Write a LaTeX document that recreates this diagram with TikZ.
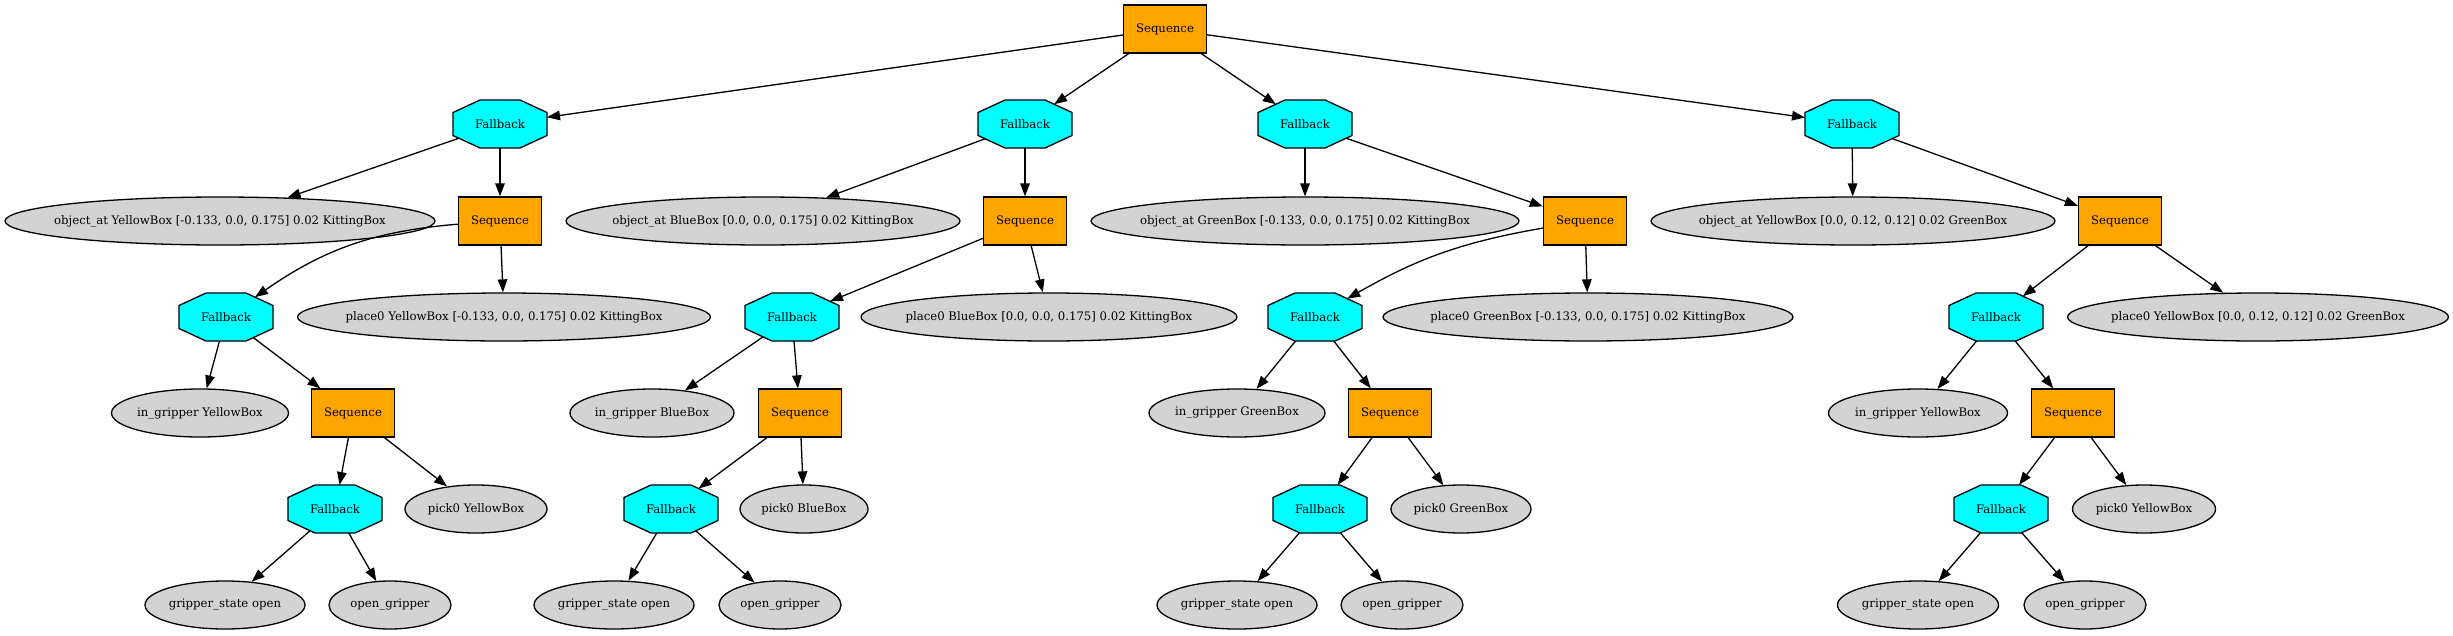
\documentclass[tikz,border=0pt]{standalone}
\usepackage{fontspec}
\setmainfont{DejaVu Serif}
\usetikzlibrary{shapes.geometric,arrows.meta}
\definecolor{lgray}{HTML}{D3D3D3}
\definecolor{seqorange}{HTML}{FFA500}
\definecolor{fbcyan}{HTML}{00FFFF}
\newcommand{\zb}[1]{\makebox[0pt]{#1}}
\newdimen\octxa \newdimen\octya \newdimen\octxb \newdimen\octyb
\def\octchx{27}
\def\octchy{12.5}
\makeatletter
\pgfdeclareshape{octo}{%
  \inheritsavedanchors[from=rectangle]%
  \inheritanchor[from=rectangle]{center}%
  \inheritanchor[from=rectangle]{north}%
  \inheritanchor[from=rectangle]{south}%
  \inheritanchor[from=rectangle]{east}%
  \inheritanchor[from=rectangle]{west}%
  \backgroundpath{%
    \southwest \octxa=\pgf@x \octya=\pgf@y
    \northeast \octxb=\pgf@x \octyb=\pgf@y
    \pgfpathmoveto{\pgfqpoint{\octxa}{\dimexpr\octya+\octchy pt\relax}}%
    \pgfpathlineto{\pgfqpoint{\dimexpr\octxa+\octchx pt\relax}{\octya}}%
    \pgfpathlineto{\pgfqpoint{\dimexpr\octxb-\octchx pt\relax}{\octya}}%
    \pgfpathlineto{\pgfqpoint{\octxb}{\dimexpr\octya+\octchy pt\relax}}%
    \pgfpathlineto{\pgfqpoint{\octxb}{\dimexpr\octyb-\octchy pt\relax}}%
    \pgfpathlineto{\pgfqpoint{\dimexpr\octxb-\octchx pt\relax}{\octyb}}%
    \pgfpathlineto{\pgfqpoint{\dimexpr\octxa+\octchx pt\relax}{\octyb}}%
    \pgfpathlineto{\pgfqpoint{\octxa}{\dimexpr\octyb-\octchy pt\relax}}%
    \pgfpathclose
  }%
  \anchorborder{%
    \edef\octdx{\pgf@sys@tonumber\pgf@x}%
    \edef\octdy{\pgf@sys@tonumber\pgf@y}%
    \southwest \octxa=\pgf@x \octya=\pgf@y
    \northeast \octxb=\pgf@x \octyb=\pgf@y
    \pgfmathsetmacro\octlen{max(veclen(\octdx,\octdy),0.001)}%
    \pgfmathsetmacro\octux{\octdx/\octlen}%
    \pgfmathsetmacro\octuy{\octdy/\octlen}%
    \pgfmathsetmacro\octX{max(abs(\octux),0.01)}%
    \pgfmathsetmacro\octY{max(abs(\octuy),0.01)}%
    \pgfmathsetmacro\octa{(\octxb-\octxa)/2}%
    \pgfmathsetmacro\octb{(\octyb-\octya)/2}%
    \pgfmathsetmacro\octt{min(\octa/\octX,\octb/\octY,(\octchy*\octa+\octchx*\octb-\octchx*\octchy)/(\octchy*\octX+\octchx*\octY))}%
    \pgfmathsetmacro\octpx{(\octxa+\octxb)/2+\octt*\octux}%
    \pgfmathsetmacro\octpy{(\octya+\octyb)/2+\octt*\octuy}%
    \pgf@x=\octpx pt\relax
    \pgf@y=\octpy pt\relax
  }%
}
\makeatother
\begin{document}
\begin{tikzpicture}[x=1pt,y=-1pt,
  every node/.style={font=\fontsize{11.7}{14}\selectfont, line width=1.3pt},
  seqbox/.style={rectangle, draw, fill=seqorange, minimum width=83pt, minimum height=48pt, inner sep=0pt},
  fbbox/.style={octo, draw, fill=fbcyan, minimum width=94pt, minimum height=48pt, inner sep=0pt, outer sep=0pt},
  leaf/.style={ellipse, draw, fill=lgray, minimum height=48pt, inner sep=0pt},
  edge/.style={line width=1.3pt, -{Triangle[length=13pt,width=9.5pt]}}]
\useasboundingbox (0,0) rectangle (2453,635);
% root
\node[seqbox] (root) at (1165,29) {\zb{Sequence}};
% subtree A
\node[fbbox] (fA) at (500,124) {\zb{Fallback}};
\node[leaf, minimum width=430pt] (oA) at (220,221) {\zb{object\_at YellowBox [-0.133, 0.0, 0.175] 0.02 KittingBox}};
\node[seqbox] (sA) at (500,221) {\zb{Sequence}};
\node[fbbox] (fA2) at (226,317) {\zb{Fallback}};
\node[leaf, minimum width=413pt] (pA) at (504,317) {\zb{place0 YellowBox [-0.133, 0.0, 0.175] 0.02 KittingBox}};
\node[leaf, minimum width=177pt] (iA) at (200,413) {\zb{in\_gripper YellowBox}};
\node[seqbox] (sA2) at (353,413) {\zb{Sequence}};
\node[fbbox] (fA3) at (335,509) {\zb{Fallback}};
\node[leaf, minimum width=142pt] (kA) at (476,509) {\zb{pick0 YellowBox}};
\node[leaf, minimum width=160pt] (gA) at (225,605) {\zb{gripper\_state open}};
\node[leaf, minimum width=122pt] (opA) at (390,605) {\zb{open\_gripper}};
% subtree B
\node[fbbox] (fB) at (1025,124) {\zb{Fallback}};
\node[leaf, minimum width=394pt] (oB) at (763,221) {\zb{object\_at BlueBox [0.0, 0.0, 0.175] 0.02 KittingBox}};
\node[seqbox] (sB) at (1025,221) {\zb{Sequence}};
\node[fbbox] (fB2) at (792,317) {\zb{Fallback}};
\node[leaf, minimum width=376pt] (pB) at (1049,317) {\zb{place0 BlueBox [0.0, 0.0, 0.175] 0.02 KittingBox}};
\node[leaf, minimum width=164pt] (iB) at (652,413) {\zb{in\_gripper BlueBox}};
\node[seqbox] (sB2) at (800,413) {\zb{Sequence}};
\node[fbbox] (fB3) at (671,509) {\zb{Fallback}};
\node[leaf, minimum width=128pt] (kB) at (804,509) {\zb{pick0 BlueBox}};
\node[leaf, minimum width=160pt] (gB) at (614,605) {\zb{gripper\_state open}};
\node[leaf, minimum width=122pt] (opB) at (780,605) {\zb{open\_gripper}};
% subtree C
\node[fbbox] (fC) at (1305,124) {\zb{Fallback}};
\node[leaf, minimum width=428pt] (oC) at (1305,221) {\zb{object\_at GreenBox [-0.133, 0.0, 0.175] 0.02 KittingBox}};
\node[seqbox] (sC) at (1585,221) {\zb{Sequence}};
\node[fbbox] (fC2) at (1315,317) {\zb{Fallback}};
\node[leaf, minimum width=410pt] (pC) at (1588,317) {\zb{place0 GreenBox [-0.133, 0.0, 0.175] 0.02 KittingBox}};
\node[leaf, minimum width=176pt] (iC) at (1237,413) {\zb{in\_gripper GreenBox}};
\node[seqbox] (sC2) at (1390,413) {\zb{Sequence}};
\node[fbbox] (fC3) at (1320,509) {\zb{Fallback}};
\node[leaf, minimum width=140pt] (kC) at (1461,509) {\zb{pick0 GreenBox}};
\node[leaf, minimum width=160pt] (gC) at (1237,605) {\zb{gripper\_state open}};
\node[leaf, minimum width=122pt] (opC) at (1402,605) {\zb{open\_gripper}};
% subtree D
\node[fbbox] (fD) at (1852,124) {\zb{Fallback}};
\node[leaf, minimum width=404pt] (oD) at (1853,221) {\zb{object\_at YellowBox [0.0, 0.12, 0.12] 0.02 GreenBox}};
\node[seqbox] (sD) at (2120,221) {\zb{Sequence}};
\node[fbbox] (fD2) at (1996,317) {\zb{Fallback}};
\node[leaf, minimum width=381pt] (pD) at (2258,317) {\zb{place0 YellowBox [0.0, 0.12, 0.12] 0.02 GreenBox}};
\node[leaf, minimum width=179pt] (iD) at (1918,413) {\zb{in\_gripper YellowBox}};
\node[seqbox] (sD2) at (2073,413) {\zb{Sequence}};
\node[fbbox] (fD3) at (2001,509) {\zb{Fallback}};
\node[leaf, minimum width=143pt] (kD) at (2144,509) {\zb{pick0 YellowBox}};
\node[leaf, minimum width=161pt] (gD) at (1918,605) {\zb{gripper\_state open}};
\node[leaf, minimum width=122pt] (opD) at (2085,605) {\zb{open\_gripper}};
% edges
\draw[edge] (root) -- (fA);
\draw[edge] (root) -- (fB);
\draw[edge] (root) -- (fC);
\draw[edge] (root) -- (fD);
\foreach \s in {A,B,C,D} {
  \draw[edge] (f\s) -- (o\s);
  \draw[edge] (f\s) -- (s\s);
  \draw[edge] (s\s) -- (p\s);
  \draw[edge] (f\s2) -- (i\s);
  \draw[edge] (f\s2) -- (s\s2);
  \draw[edge] (s\s2) -- (f\s3);
  \draw[edge] (s\s2) -- (k\s);
  \draw[edge] (f\s3) -- (g\s);
  \draw[edge] (f\s3) -- (op\s);
}
\draw[edge] (sA) to[bend right=15] (fA2);
\draw[edge] (sB) -- (fB2);
\draw[edge] (sC) to[bend right=10] (fC2);
\draw[edge] (sD) -- (fD2);
\end{tikzpicture}
\end{document}
